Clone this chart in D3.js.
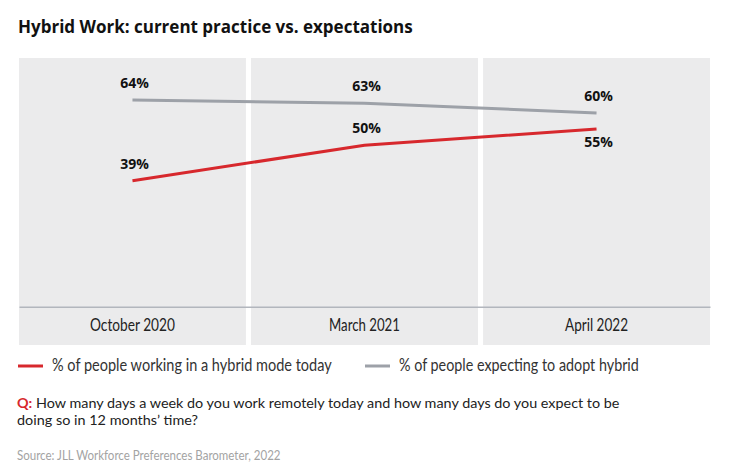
<!DOCTYPE html>
<html>
<head>
<meta charset="utf-8">
<script src="https://cdn.jsdelivr.net/npm/d3@7"></script>
<style>
  body { margin: 0; background: #fff; }
  svg { display: block; }
</style>
</head>
<body>
<svg id="chart"></svg>
<script>
const periods = ["October 2020", "March 2021", "April 2022"];
const hybridToday = [39, 50, 55];
const expectHybrid = [64, 63, 60];
const seriesNames = ["% of people working in a hybrid mode today", "% of people expecting to adopt hybrid"];

const width = 744, height = 475;
const red = "#d7282d", grey = "#9da1a8";
const bodyFont = "Lato, 'Open Sans', sans-serif";

const svg = d3.select("#chart").attr("width", width).attr("height", height);

// la police d'origine est étroite : on ajuste le texte horizontalement
// pour retrouver la largeur mesurée sur l'image
function squeeze(sel, target, x, y) {
  const len = sel.node().getComputedTextLength();
  const s = target / len;
  sel.attr("x", 0).attr("y", 0)
    .attr("transform", `translate(${x},${y}) scale(${s},1)`);
  return sel;
}

// titre
squeeze(svg.append("text")
  .attr("font-family", "'Open Sans', sans-serif")
  .attr("font-weight", 700)
  .attr("font-size", 18)
  .attr("fill", "#111")
  .text("Hybrid Work: current practice vs. expectations"), 395, 18, 33);

const x = d3.scaleBand().domain(periods).range([19, 710]).paddingInner(0.022);
const y = d3.scaleLinear().domain([0, 77]).range([306.7, 58]);

// panneaux gris
svg.append("g").selectAll("rect")
  .data(periods)
  .enter().append("rect")
  .attr("x", d => x(d))
  .attr("y", 58)
  .attr("width", x.bandwidth())
  .attr("height", 345 - 58)
  .attr("fill", "#ebebec");

// axe du bas
const tickWidths = [85, 71, 63];
const axis = svg.append("g")
  .attr("transform", `translate(0, ${y(0)})`)
  .call(d3.axisBottom(x).tickSize(0));
axis.select(".domain").attr("stroke", "#b2b6bd").attr("stroke-width", 1.6);
axis.selectAll("text")
  .attr("font-family", bodyFont)
  .attr("font-size", 16.5)
  .attr("fill", "#222")
  .attr("dy", null)
  .each(function(d, i) { squeeze(d3.select(this), tickWidths[i], 0, 24); });

const cx = d => x(d) + x.bandwidth() / 2;
const line = d3.line().x(d => cx(d.p)).y(d => y(d.v));

const series = [
  { name: seriesNames[1], color: grey, width: 240, values: periods.map((p, i) => ({ p, v: expectHybrid[i] })) },
  { name: seriesNames[0], color: red, width: 280, values: periods.map((p, i) => ({ p, v: hybridToday[i] })) }
];

svg.append("g").selectAll("path")
  .data(series)
  .enter().append("path")
  .attr("d", d => line(d.values))
  .attr("fill", "none")
  .attr("stroke", d => d.color)
  .attr("stroke-width", 3);

// étiquettes de valeurs
const labels = [];
periods.forEach((p, i) => {
  labels.push({ p, v: expectHybrid[i], dy: -12 });
  // le dernier point rouge a son étiquette en dessous
  labels.push({ p, v: hybridToday[i], dy: i === periods.length - 1 ? 18 : -12 });
});
svg.append("g").selectAll("text")
  .data(labels)
  .enter().append("text")
  .attr("x", d => cx(d.p) + 2)
  .attr("y", d => y(d.v) + d.dy)
  .attr("text-anchor", "middle")
  .attr("font-family", "'Open Sans', sans-serif")
  .attr("font-weight", 700)
  .attr("font-size", 14)
  .attr("fill", "#111")
  .text(d => d.v + "%");

// légende
const legendPos = [18, 365];
const legend = svg.append("g").selectAll("g")
  .data([series[1], series[0]])
  .enter().append("g")
  .attr("transform", (d, i) => `translate(${legendPos[i]}, 366)`);
legend.append("line")
  .attr("x1", 0).attr("x2", 25)
  .attr("stroke", d => d.color).attr("stroke-width", 3);
legend.append("text")
  .attr("font-family", bodyFont)
  .attr("font-size", 17)
  .attr("fill", "#333")
  .text(d => d.name)
  .each(function(d) { squeeze(d3.select(this), d.width, 34, 5); });

// question
const q1 = svg.append("text")
  .attr("font-family", bodyFont)
  .attr("font-size", 13.8)
  .attr("fill", "#222");
q1.append("tspan").attr("fill", red).attr("font-weight", 700).text("Q:");
q1.append("tspan").text(" How many days a week do you work remotely today and how many days do you expect to be");
squeeze(q1, 603, 17, 408);
squeeze(svg.append("text")
  .attr("font-family", bodyFont)
  .attr("font-size", 13.8)
  .attr("fill", "#222")
  .text("doing so in 12 months\u2019 time?"), 181, 17, 425);

// source
squeeze(svg.append("text")
  .attr("font-family", bodyFont)
  .attr("font-size", 13)
  .attr("fill", "#a3a3a3")
  .text("Source: JLL Workforce Preferences Barometer, 2022"), 264, 17, 460);
</script>
</body>
</html>
